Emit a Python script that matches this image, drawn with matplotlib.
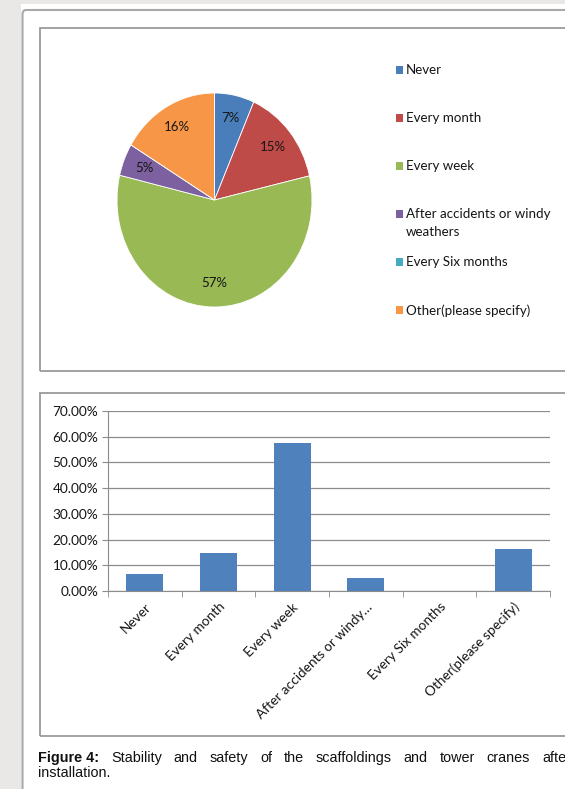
import matplotlib
matplotlib.use("Agg")
import matplotlib.pyplot as plt
from matplotlib.patches import Rectangle, FancyBboxPatch
from matplotlib.ticker import FuncFormatter, FixedLocator
import numpy as np

# survey answers (share of respondents)
categories = ["Never", "Every month", "Every week", "After accidents or windy weathers",
              "Every Six months", "Other(please specify)"]
bar_labels = ["Never", "Every month", "Every week", "After accidents or windy\u2026",
              "Every Six months", "Other(please specify)"]
shares = [0.066, 0.148, 0.574, 0.049, 0.0, 0.164]
colors = ["#4a7ebb", "#be4b48", "#98b954", "#7d60a0", "#46aac5", "#f79646"]
bar_color = "#4f81bd"
legend_text = ["Never", "Every month", "Every week", "After accidents or windy\nweathers",
               "Every Six months", "Other(please specify)"]
caption_words = ["Stability", "and", "safety", "of", "the", "scaffoldings", "and",
                 "tower", "cranes", "after"]

W, H = 565, 789
fig = plt.figure(figsize=(W / 100, H / 100), dpi=100, facecolor="#e9e8e6")


def px(x, y, w, h):
    # pixel box (top-left origin) -> figure fraction rect
    return [x / W, 1 - (y + h) / H, w / W, h / H]


# page background and frames (kept under the axes)
fig.add_artist(Rectangle((21 / W, 0), 1, 1 - 4 / H, transform=fig.transFigure,
                         facecolor="white", edgecolor="none", zorder=-3))
fig.add_artist(FancyBboxPatch((22.5 / W, -0.1), 1, 1 - 10 / H + 0.1,
                              boxstyle="round,pad=0,rounding_size=0.006",
                              transform=fig.transFigure, facecolor="none",
                              edgecolor="#a8a8a8", lw=1.5, zorder=-2))
for top, bot in [(28, 371), (393, 736)]:
    fig.add_artist(Rectangle((40 / W, 1 - bot / H), 1, (bot - top) / H,
                             transform=fig.transFigure, facecolor="none",
                             edgecolor="#9a9a9a", lw=1.3, zorder=-2))

font = "Lato"
ink = "#151515"

# pie chart
ax1 = fig.add_axes(px(117, 93, 195, 214))
wedges, texts, autotexts = ax1.pie(
    shares, colors=colors, startangle=90, counterclock=False,
    autopct=lambda p: "%.0f%%" % p if p >= 0.5 else "", pctdistance=0.78,
    wedgeprops=dict(edgecolor="white", linewidth=0.6),
    textprops=dict(fontsize=9.5, family=font, color=ink))
ax1.set_aspect("auto")
ax1.set_xlim(-1, 1)
ax1.set_ylim(-1, 1)

# legend
leg_y = [70, 118, 166, 214, 262, 310]
for c, lab, y in zip(colors, legend_text, leg_y):
    fig.add_artist(Rectangle((396 / W, 1 - (y + 4) / H), 7 / W, 8 / H,
                             transform=fig.transFigure, facecolor=c,
                             edgecolor="none", zorder=3))
    fig.text(406 / W, 1 - (y - 6) / H, lab, fontsize=9.6, family=font,
             va="top", ha="left", color=ink, linespacing=1.55)

# bar chart
ax2 = fig.add_axes(px(108, 411, 442, 180))
x = np.arange(len(shares))
ax2.bar(x, shares, width=0.5, color=bar_color, zorder=3)
ax2.set_xlim(-0.5, len(shares) - 0.5)
ax2.set_ylim(0, 0.7)
ax2.set_yticks(np.arange(0, 0.71, 0.1))
ax2.yaxis.set_major_formatter(FuncFormatter(lambda v, p: "%.2f%%" % (v * 100)))
ax2.grid(axis="y", color="#8c8c8c", lw=0.9, zorder=0)
for s in ["top", "right"]:
    ax2.spines[s].set_visible(False)
ax2.spines["left"].set_color("#8c8c8c")
ax2.spines["bottom"].set_color("#8c8c8c")
ax2.tick_params(axis="y", length=4, color="#8c8c8c", labelsize=9.8, pad=3,
                labelcolor=ink)
ax2.set_xticks(x)
ax2.set_xticklabels(bar_labels, rotation=45, ha="right", rotation_mode="anchor",
                    fontsize=9.8, family=font, color=ink)
ax2.tick_params(axis="x", which="major", length=0, pad=7)
ax2.xaxis.set_minor_locator(FixedLocator(np.arange(-0.5, len(shares), 1.0)))
ax2.tick_params(axis="x", which="minor", length=4, color="#8c8c8c")
for t in ax2.get_yticklabels():
    t.set_family(font)

# caption, first line justified past the right edge
cap = dict(fontsize=10.4, family="Liberation Sans", va="baseline", color="#111111")
head = fig.text(38 / W, 1 - 762 / H, "Figure 4:", fontweight="bold", **cap)
word_txt = [fig.text(0, 1 - 762 / H, w, **cap) for w in caption_words]
r = fig.canvas.get_renderer()
x0 = 38 + head.get_window_extent(r).width
widths = [t.get_window_extent(r).width for t in word_txt]
gap = (571 - x0 - sum(widths)) / len(widths)
xc = x0 + gap
for t, w in zip(word_txt, widths):
    t.set_x(xc / W)
    xc += w + gap
fig.text(38 / W, 1 - 777 / H, "installation.", **cap)

fig.savefig("out.png", dpi=100, facecolor=fig.get_facecolor())
